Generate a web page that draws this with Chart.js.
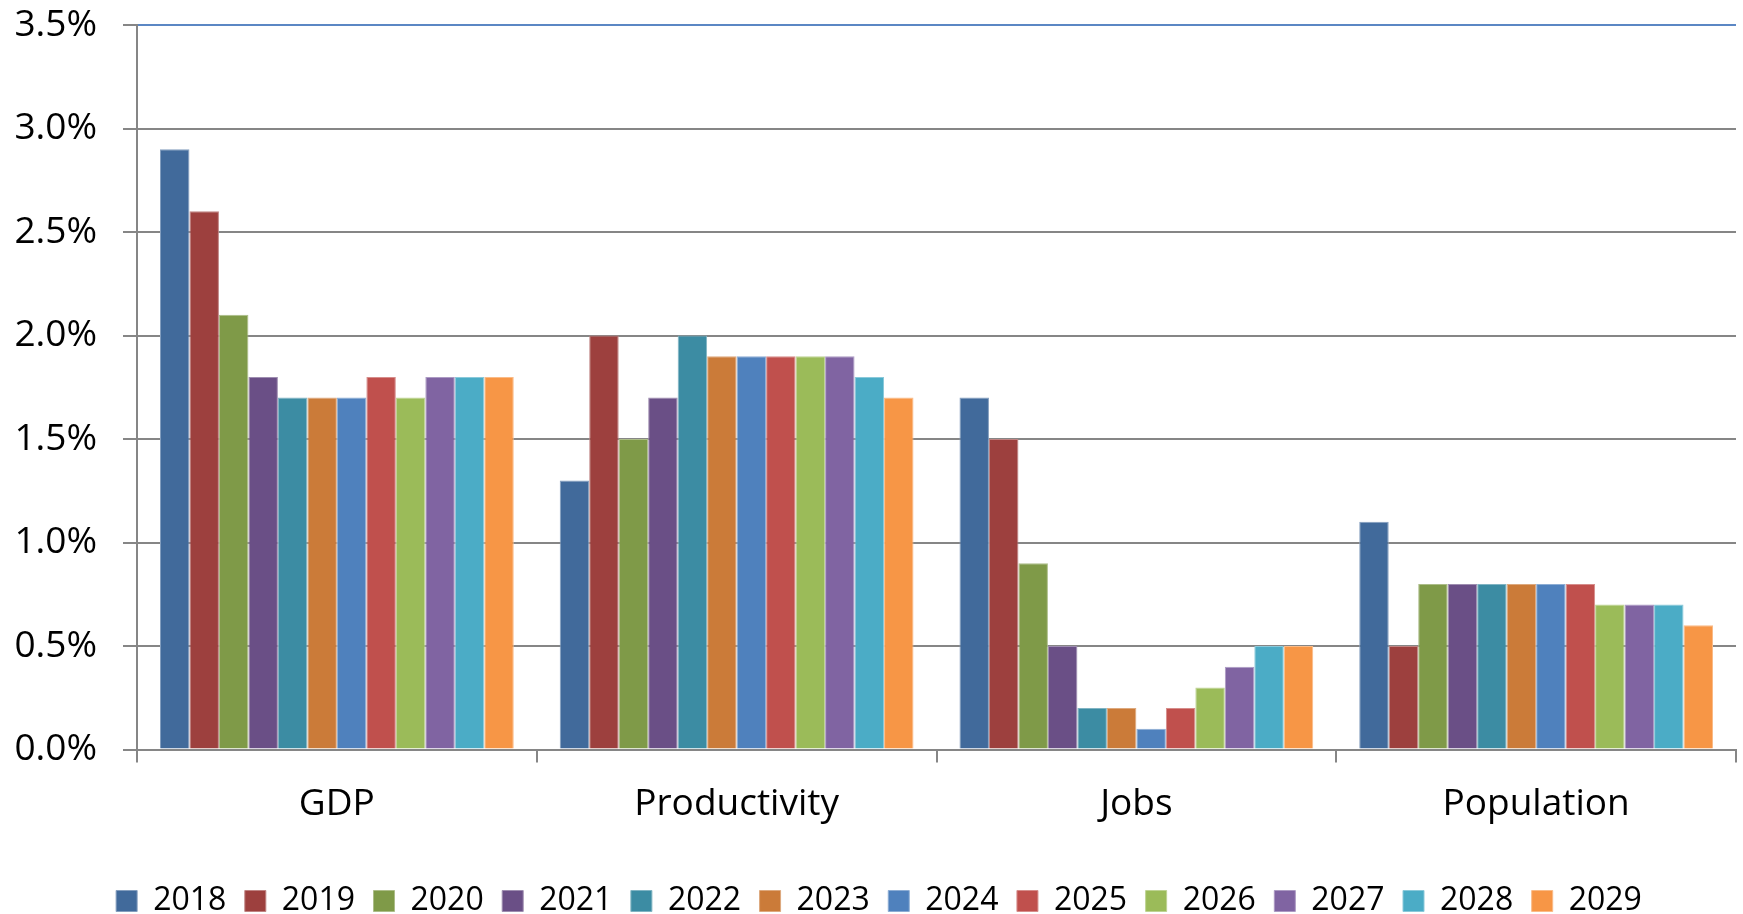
<!DOCTYPE html>
<html>
<head>
<meta charset="utf-8">
<script src="https://cdn.jsdelivr.net/npm/chart.js@4.4.1/dist/chart.umd.min.js"></script>
<style>
  html, body { margin: 0; padding: 0; background: #ffffff; }
  #wrap { width: 1743px; height: 914px; position: relative; }
</style>
</head>
<body>
<div id="wrap"><canvas id="chart" width="1743" height="914"></canvas></div>
<script>
// Annual growth rates (%), by measure and year
const categories = ['GDP', 'Productivity', 'Jobs', 'Population'];
const years = ['2018', '2019', '2020', '2021', '2022', '2023', '2024', '2025', '2026', '2027', '2028', '2029'];

// one value per category (GDP, Productivity, Jobs, Population)
const y2018 = [2.9, 1.3, 1.7, 1.1];
const y2019 = [2.6, 2.0, 1.5, 0.5];
const y2020 = [2.1, 1.5, 0.9, 0.8];
const y2021 = [1.8, 1.7, 0.5, 0.8];
const y2022 = [1.7, 2.0, 0.2, 0.8];
const y2023 = [1.7, 1.9, 0.2, 0.8];
const y2024 = [1.7, 1.9, 0.1, 0.8];
const y2025 = [1.8, 1.9, 0.2, 0.8];
const y2026 = [1.7, 1.9, 0.3, 0.7];
const y2027 = [1.8, 1.9, 0.4, 0.7];
const y2028 = [1.8, 1.8, 0.5, 0.7];
const y2029 = [1.8, 1.7, 0.5, 0.6];

const yTickValues = [0, 0.5, 1.0, 1.5, 2.0, 2.5, 3.0, 3.5];

const seriesValues = [y2018, y2019, y2020, y2021, y2022, y2023, y2024, y2025, y2026, y2027, y2028, y2029];
const seriesColors = ['#416A9B', '#9D403E', '#7F9A48', '#6A4F86', '#3C8CA3', '#CB7B39',
                      '#4F81BD', '#C0504D', '#9BBB59', '#8064A2', '#4BACC6', '#F79646'];

function lighten(hex, t) {
  const n = parseInt(hex.slice(1), 16);
  const r = (n >> 16) & 255, g = (n >> 8) & 255, b = n & 255;
  const m = c => Math.round(c + (255 - c) * t);
  return 'rgb(' + m(r) + ',' + m(g) + ',' + m(b) + ')';
}

const FONT = '"Open Sans"';
const AXIS_GREY = '#868686';
const FRAME_BLUE = '#5B87C4';

const datasets = years.map((yr, i) => ({
  label: yr,
  data: seriesValues[i],
  backgroundColor: seriesColors[i],
  borderColor: lighten(seriesColors[i], 0.35),
  borderWidth: 1,
  categoryPercentage: 0.885,
  barPercentage: 1.0
}));

// nudges the legend row sideways so its boxes sit under the plot as laid out
const legendShift = {
  id: 'legendShift',
  afterLayout(chart) {
    const lg = chart.legend;
    if (lg) { lg.left += 11; lg.right += 11; }
  }
};

new Chart(document.getElementById('chart'), {
  type: 'bar',
  data: { labels: categories, datasets: datasets },
  plugins: [legendShift],
  options: {
    responsive: false,
    animation: false,
    devicePixelRatio: 1,
    layout: { padding: { left: 0, right: 7, top: 25, bottom: -13 } },
    plugins: {
      tooltip: { enabled: false },
      legend: {
        position: 'bottom',
        labels: {
          boxWidth: 21,
          boxHeight: 21,
          padding: 18.5,
          color: '#000000',
          font: { family: FONT, size: 32 }
        }
      }
    },
    scales: {
      x: {
        offset: true,
        grid: {
          offset: true,
          drawOnChartArea: true,
          color: ctx => (ctx.index === categories.length ? FRAME_BLUE : 'rgba(0,0,0,0)'),
          tickColor: AXIS_GREY,
          tickLength: 13,
          lineWidth: 2
        },
        border: { color: AXIS_GREY, width: 2 },
        ticks: {
          color: '#000000',
          font: { family: FONT, size: 37 },
          padding: 20
        },
        afterFit: scale => { scale.height = 117; }
      },
      y: {
        min: 0,
        max: 3.5,
        afterBuildTicks: scale => { scale.ticks = yTickValues.map(v => ({ value: v })); },
        grid: {
          color: ctx => (ctx.tick && ctx.tick.value === 3.5 ? FRAME_BLUE : AXIS_GREY),
          tickColor: AXIS_GREY,
          tickLength: 14,
          lineWidth: 2
        },
        border: { color: AXIS_GREY, width: 2 },
        ticks: {
          color: '#000000',
          font: { family: FONT, size: 37 },
          padding: 26,
          callback: v => Number(v).toFixed(1) + '%'
        },
        afterFit: scale => {
          scale.width = 137;
          scale.paddingTop = 0;
          scale.paddingBottom = 0;
        }
      }
    }
  }
});
</script>
</body>
</html>
